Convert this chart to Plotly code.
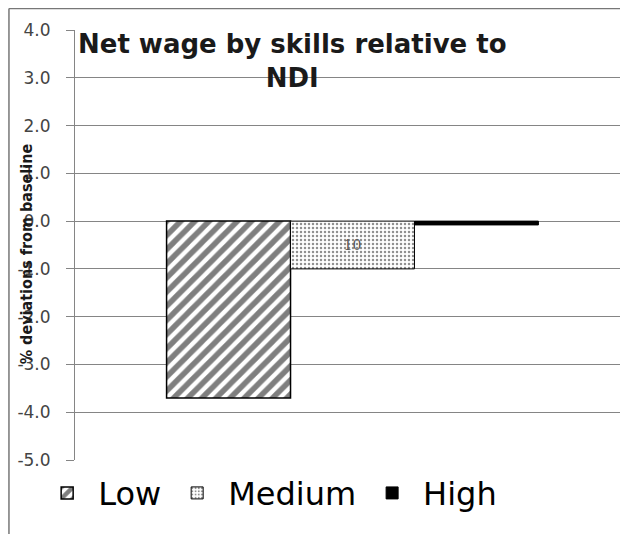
import plotly.graph_objects as go

category = ["Net wage"]
series_names = ["Low", "Medium", "High"]
low_values = [-3.7]
medium_values = [-1.0]
high_values = [-0.08]
medium_label = ["10"]
tick_values = [4, 3, 2, 1, 0, -1, -2, -3, -4, -5]
tick_labels = ["4.0", "3.0", "2.0", "1.0", "0.0", "-1.0", "-2.0", "-3.0", "-4.0", "-5.0"]
title_text = "Net wage by skills relative to<br>NDI"
y_title = "% deviations from baseline"

fig = go.Figure()
fig.add_trace(go.Bar(
    x=category, y=low_values, name=series_names[0],
    marker=dict(color="white", line=dict(color="black", width=1.5),
                pattern=dict(shape="/", fgcolor="black", bgcolor="white", size=10, solidity=0.55)),
))
fig.add_trace(go.Bar(
    x=category, y=medium_values, name=series_names[1],
    text=medium_label, textposition="inside", insidetextanchor="middle",
    textfont=dict(family="DejaVu Serif", size=14, color="#555555"),
    marker=dict(color="white", line=dict(color="black", width=1),
                pattern=dict(shape=".", fgcolor="#222222", bgcolor="white", size=4, solidity=0.3)),
))
fig.add_trace(go.Bar(
    x=category, y=high_values, name=series_names[2],
    marker=dict(color="black", line=dict(color="black", width=1)),
))

fig.update_layout(
    width=628, height=534,
    margin=dict(l=67, r=6, t=22, b=82, autoexpand=False),
    paper_bgcolor="white", plot_bgcolor="white",
    barmode="group", bargap=0.33, bargroupgap=0,
    showlegend=True,
    legend=dict(orientation="h", x=-0.07, xanchor="left", y=-0.077, yanchor="middle",
                font=dict(family="DejaVu Sans", size=32, color="black"),
                itemwidth=52, traceorder="normal"),
    xaxis=dict(showticklabels=False, showgrid=False, zeroline=False, showline=False),
    yaxis=dict(range=[-5, 4], tickvals=tick_values, ticktext=tick_labels,
               showgrid=True, gridcolor="#858585", gridwidth=1,
               zeroline=True, zerolinecolor="#858585", zerolinewidth=1,
               showline=True, linecolor="#858585", linewidth=1,
               ticks="outside", ticklen=8, tickcolor="#858585",
               ticklabelstandoff=12,
               tickfont=dict(family="DejaVu Sans", size=17, color="#444444")),
    annotations=[
        dict(text="<b>" + title_text + "</b>", xref="paper", yref="paper",
             x=0.392, y=1.008, xanchor="center", yanchor="top", showarrow=False,
             font=dict(family="DejaVu Sans", size=26, color="#1a1a1a"), align="center"),
        dict(text="<b>" + y_title + "</b>", xref="paper", yref="paper",
             x=-0.087, y=0.48, xanchor="center", yanchor="middle", textangle=-90,
             showarrow=False,
             font=dict(family="DejaVu Sans Condensed, Liberation Sans Narrow, Arial Narrow, sans-serif",
                       size=16, color="#1a1a1a")),
    ],
    shapes=[
        dict(type="line", xref="paper", yref="paper", x0=-0.119, x1=-0.119, y0=1.05, y1=-0.2,
             line=dict(color="#777777", width=1.5)),
        dict(type="line", xref="paper", yref="paper", x0=-0.119, x1=1.02, y0=1.05, y1=1.05,
             line=dict(color="#777777", width=1.5)),
    ],
)

fig.write_html("out.html")
